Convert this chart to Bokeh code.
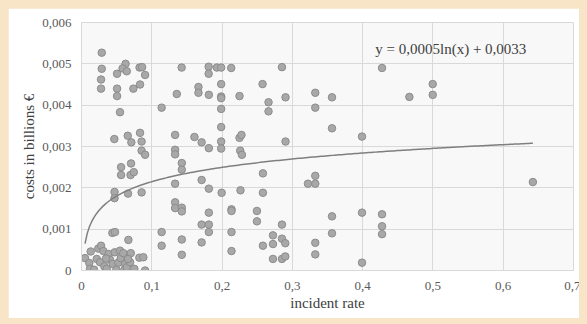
import numpy as np
from bokeh.plotting import figure
from bokeh.models import FixedTicker, ColumnDataSource, Label
from bokeh.embed import file_html
from bokeh.resources import INLINE
from jinja2 import Template

# incident rate (x) and costs in billions EUR (y)
incident_rate = [
    0.0288, 0.0288, 0.0278, 0.0278, 0.0506, 0.0627, 0.0584, 0.0644, 0.0506, 0.0506,
    0.0738, 0.0833, 0.0826, 0.0862, 0.0905, 0.0548, 0.0467, 0.0658, 0.0709, 0.0833,
    0.0855, 0.0855, 0.0905, 0.0563, 0.0705, 0.0563, 0.0698, 0.0744, 0.0470, 0.0470,
    0.0662, 0.0855, 0.0439, 0.0477, 0.0667,
    0.0050, 0.0131, 0.0111, 0.0121, 0.0178, 0.0217, 0.0239, 0.0278, 0.0311, 0.0264,
    0.0325, 0.0359, 0.0387, 0.0406, 0.0444, 0.0473, 0.0496, 0.0524, 0.0548, 0.0558,
    0.0595, 0.0620, 0.0610, 0.0644, 0.0701, 0.0691, 0.0752, 0.0823, 0.0880, 0.0905,
    0.0349, 0.0662,
    0.1140, 0.1425, 0.1356, 0.1664, 0.1664, 0.1809, 0.1809, 0.1812, 0.1926, 0.1987,
    0.2130, 0.1987, 0.1987, 0.1987, 0.1987, 0.2248, 0.2576, 0.2661, 0.2661, 0.2852,
    0.2903, 0.2903, 0.1332, 0.1332, 0.1332, 0.1607, 0.1709, 0.1812, 0.1987, 0.1987,
    0.1987, 0.2248, 0.2276, 0.2258, 0.2282, 0.1427, 0.1427, 0.1332, 0.1709, 0.1812,
    0.1994, 0.2262, 0.1332, 0.1332, 0.1427, 0.1427, 0.1812, 0.2134, 0.2134, 0.1709,
    0.1812, 0.1812, 0.2134, 0.1140, 0.1140, 0.1427, 0.1709, 0.1427, 0.2134, 0.2581,
    0.2581, 0.2496, 0.2496, 0.2852, 0.2724, 0.2852, 0.2899, 0.2724, 0.2581, 0.2724,
    0.2852, 0.2899,
    0.3326, 0.3564, 0.3326, 0.3564, 0.3991, 0.4276, 0.4665, 0.4997, 0.4997, 0.3326,
    0.3222, 0.3326, 0.3564, 0.3564, 0.3991, 0.4276, 0.4276, 0.4276, 0.3326, 0.3326,
    0.3991, 0.6422,
]
costs = [
    0.00527, 0.00488, 0.00462, 0.00440, 0.00476, 0.00500, 0.00489, 0.00482, 0.00440, 0.00422,
    0.00440, 0.00450, 0.00491, 0.00492, 0.00473, 0.00383, 0.00318, 0.00326, 0.00310, 0.00333,
    0.00312, 0.00290, 0.00280, 0.00250, 0.00259, 0.00231, 0.00231, 0.00238, 0.00190, 0.00175,
    0.00186, 0.00189, 0.00091, 0.00093, 0.00074,
    0.00030, 0.00046, 0.00018, 0.00004, 0.00002, 0.00028, 0.00053, 0.00060, 0.00047, 0.00020,
    0.00010, 0.00004, 0.00040, 0.00026, 0.00016, 0.00044, 0.00002, 0.00019, 0.00048, 0.00030,
    0.00042, 0.00016, 0.00002, 0.00008, 0.00042, 0.00020, 0.00004, 0.00031, 0.00032, 0.00000,
    0.00029, 0.00028,
    0.00394, 0.00491, 0.00427, 0.00444, 0.00430, 0.00493, 0.00476, 0.00425, 0.00491, 0.00491,
    0.00490, 0.00451, 0.00421, 0.00417, 0.00391, 0.00422, 0.00451, 0.00407, 0.00385, 0.00492,
    0.00419, 0.00312, 0.00328, 0.00292, 0.00281, 0.00323, 0.00310, 0.00296, 0.00347, 0.00312,
    0.00295, 0.00321, 0.00328, 0.00290, 0.00280, 0.00260, 0.00244, 0.00210, 0.00219, 0.00198,
    0.00188, 0.00194, 0.00165, 0.00151, 0.00152, 0.00143, 0.00140, 0.00148, 0.00144, 0.00111,
    0.00111, 0.00093, 0.00093, 0.00093, 0.00060, 0.00075, 0.00068, 0.00038, 0.00047, 0.00235,
    0.00188, 0.00144, 0.00119, 0.00111, 0.00085, 0.00077, 0.00066, 0.00064, 0.00060, 0.00028,
    0.00028, 0.00034,
    0.00430, 0.00419, 0.00394, 0.00344, 0.00324, 0.00490, 0.00420, 0.00451, 0.00425, 0.00229,
    0.00210, 0.00210, 0.00131, 0.00090, 0.00140, 0.00136, 0.00107, 0.00088, 0.00067, 0.00039,
    0.00019, 0.00214,
]

x_ticks = [0, 0.1, 0.2, 0.3, 0.4, 0.5, 0.6, 0.7]
x_tick_labels = ["0", "0,1", "0,2", "0,3", "0,4", "0,5", "0,6", "0,7"]
y_ticks = [0, 0.001, 0.002, 0.003, 0.004, 0.005, 0.006]
y_tick_labels = ["0", "0,001", "0,002", "0,003", "0,004", "0,005", "0,006"]

# logarithmic trendline coefficients: y = a*ln(x) + b
trend_a = 0.0005
trend_b = 0.0033
trend_label = "y = 0,0005ln(x) + 0,0033"

FONT = "Liberation Serif"

p = figure(width=572, height=310, output_backend="svg", toolbar_location=None,
           x_range=(0, 0.7), y_range=(0, 0.006),
           min_border_left=73, min_border_right=7, min_border_top=14, min_border_bottom=48)
p.background_fill_color = "#f8f8f8"
p.border_fill_color = "white"
p.outline_line_color = "#d9d9d9"

p.xgrid.grid_line_color = "#d9d9d9"
p.ygrid.grid_line_color = "#d9d9d9"
p.xaxis.ticker = FixedTicker(ticks=x_ticks)
p.yaxis.ticker = FixedTicker(ticks=y_ticks)
p.xgrid.ticker = FixedTicker(ticks=x_ticks)
p.ygrid.ticker = FixedTicker(ticks=y_ticks)
p.xaxis.major_label_overrides = {t: l for t, l in zip(x_ticks, x_tick_labels)}
p.yaxis.major_label_overrides = {t: l for t, l in zip(y_ticks, y_tick_labels)}

for ax in (p.xaxis, p.yaxis):
    ax.axis_line_color = "#d9d9d9"
    ax.major_tick_line_color = None
    ax.minor_tick_line_color = None
    ax.major_tick_out = 0
    ax.major_tick_in = 0
    ax.minor_tick_out = 0
    ax.major_label_text_font = FONT
    ax.major_label_text_font_size = "13px"
    ax.major_label_text_color = "#595959"
    ax.axis_label_text_font = FONT
    ax.axis_label_text_font_size = "15px"
    ax.axis_label_text_font_style = "normal"
    ax.axis_label_text_color = "#404040"
p.xaxis.major_label_standoff = 11
p.yaxis.major_label_standoff = 10
p.xaxis.axis_label = "incident rate"
p.yaxis.axis_label = "costs in billions €"
p.xaxis.axis_label_standoff = 2
p.yaxis.axis_label_standoff = 2

src = ColumnDataSource(dict(x=incident_rate, y=costs))
p.scatter("x", "y", source=src, size=7.5, fill_color="#a8a8a8",
          line_color="#8c8c8c", line_width=1)

tx = np.linspace(min(incident_rate), max(incident_rate), 200)
ty = trend_a * np.log(tx) + trend_b
p.line(tx, ty, line_color="#7f7f7f", line_width=1.5)

p.add_layout(Label(x=0.418, y=0.00537, text=trend_label, text_font=FONT,
                   text_font_size="15px", text_color="#404040",
                   text_baseline="middle", text_align="left"))

template = Template("""<!DOCTYPE html>
<html lang="en">
<head>
<meta charset="utf-8">
<title>{{ title }}</title>
{{ bokeh_css }}
{{ bokeh_js }}
<style>body { background: #f8e4c6; margin: 8px; }</style>
</head>
<body>
{{ plot_div }}
{{ plot_script }}
</body>
</html>
""")

open("out.html", "w").write(file_html(p, INLINE, template=template))
